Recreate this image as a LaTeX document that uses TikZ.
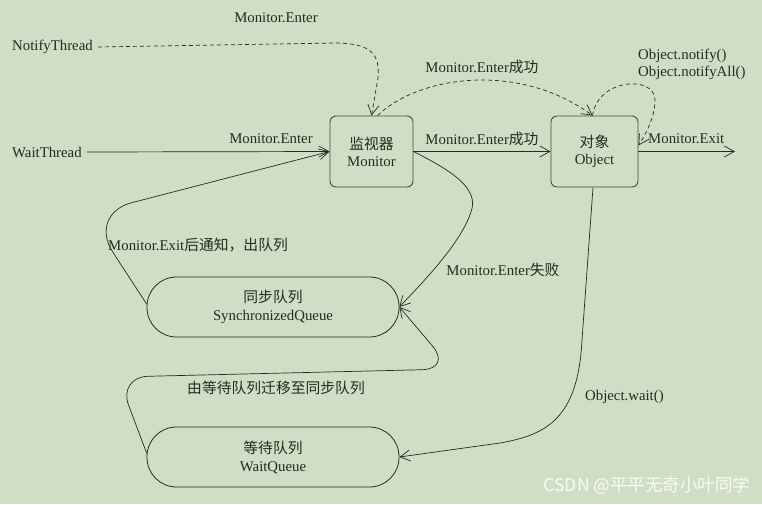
\documentclass[tikz,border=0pt]{standalone}
\usepackage{fontspec}
\setmainfont{Liberation Serif}
\newfontfamily\cjk{Noto Sans CJK SC}
\usetikzlibrary{arrows.meta}
\definecolor{bg}{RGB}{207,222,196}
\definecolor{ink}{RGB}{38,42,36}
\begin{document}
\begin{tikzpicture}[x=1pt,y=-1pt,
  every node/.style={font=\fontsize{14.8}{17}\selectfont, text=ink, inner sep=0pt},
  box/.style={draw=ink!85, line width=0.9pt, rounded corners=6pt, align=center, minimum height=71pt},
  queue/.style={draw=ink, line width=0.8pt, rounded corners=29.5pt, minimum width=252pt, minimum height=60pt, align=center},
  flow/.style={draw=ink, line width=0.7pt, -{Straight Barb[length=10pt,width=11pt]}},
  dflow/.style={flow, dash pattern=on 4pt off 3pt}
]
\useasboundingbox (0,0) rectangle (762,504);
\fill[bg] (0,0) rectangle (762,504);

% main nodes
\node[box, minimum width=83pt] (mon) at (371.5,151.5) {{\cjk 监视器}\\Monitor};
\node[box, minimum width=87pt] (obj) at (594.5,151.5) {{\cjk 对象}\\Object};
\node[queue] (sq) at (273,307) {{\cjk 同步队列}\\[1pt]SynchronizedQueue};
\node[queue] (wq) at (273,457) {{\cjk 等待队列}\\[1pt]WaitQueue};
\node[anchor=west] (nt) at (12,47) {NotifyThread};
\node[anchor=west] (wt) at (12,152) {WaitThread};
\coordinate (exit) at (735,151.5);

% labels
\node (l1) at (276,18) {Monitor.Enter};
\node (l2) at (271,139) {Monitor.Enter};
\node (l3) at (482,139) {Monitor.Enter{\cjk 成功}};
\node (l4) at (482,67) {Monitor.Enter{\cjk 成功}};
\node[anchor=west, align=left] (l5) at (638,64) {Object.notify()\\Object.notifyAll()};
\node[anchor=west] (l6) at (648,139) {Monitor.Exit};
\node[anchor=west] (l7) at (108,245) {Monitor.Exit{\cjk 后通知，出队列}};
\node (l8) at (503,270) {Monitor.Enter{\cjk 失败}};
\node (l9) at (276,388) {\cjk 由等待队列迁移至同步队列};
\node[anchor=west] (l10) at (585,397) {Object.wait()};
\node[font=\cjk\fontsize{17.5}{20}\selectfont, text=white!96!gray] (wm) at (647,486) {CSDN @平平无奇小叶同学};

% connectors
\draw[dflow] ([xshift=5pt]nt.east) -- (335,43) .. controls (372,43) and (380,55) .. (378,78) -- (mon.north);
\draw[dflow] ([xshift=6pt]mon.north) .. controls (420,75) and (520,62) .. ([xshift=-2pt]obj.north);
\draw[dflow] ([xshift=-2pt]obj.north) .. controls (598,78) and (655,75) .. (655,100) .. controls (655,118) and (645,135) .. ([yshift=6pt]obj.east);
\draw[flow] ([xshift=5pt]wt.east) -- (mon.west);
\draw[flow] (mon.east) -- (obj.west);
\draw[flow] (obj.east) -- (exit);
\draw[flow] (mon.east) .. controls (450,170) and (480,188) .. (471,212) .. controls (460,245) and (420,285) .. (sq.east);
\draw[flow, rounded corners=45pt] ([yshift=3pt]sq.west) -- (88,214) -- (mon.west);
\draw[flow, rounded corners=30pt] ([yshift=4pt]wq.west) -- (118,377) -- (452,369) -- (sq.east);
\draw[flow] ([xshift=-1.5pt]obj.south) -- (582,340) .. controls (578,420) and (545,435) .. (500,443) -- (wq.east);
\end{tikzpicture}
\end{document}
